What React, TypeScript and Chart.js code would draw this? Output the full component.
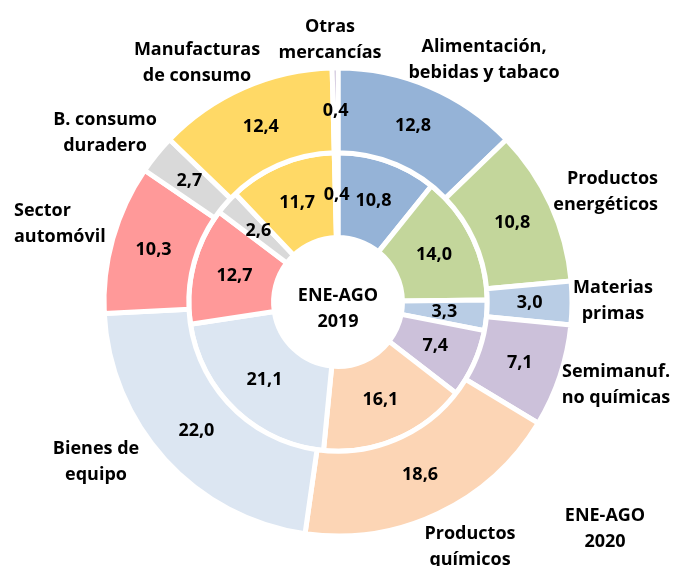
import React, { useEffect, useRef } from "react";
import { Chart, registerables } from "chart.js";

Chart.register(...registerables);

const categories: string[][] = [
  ["Alimentación,", "bebidas y tabaco"],
  ["Productos", "energéticos"],
  ["Materias", "primas"],
  ["Semimanuf.", "no químicas"],
  ["Productos", "químicos"],
  ["Bienes de", "equipo"],
  ["Sector", "automóvil"],
  ["B. consumo", "duradero"],
  ["Manufacturas", "de consumo"],
  ["Otras", "mercancías"],
];

const values2020 = [12.8, 10.8, 3.0, 7.1, 18.6, 22.0, 10.3, 2.7, 12.4, 0.4];
const values2019 = [10.8, 14.0, 3.3, 7.4, 16.1, 21.1, 12.7, 2.6, 11.7, 0.4];

const seriesTitles: string[][] = [
  ["ENE-AGO", "2020"],
  ["ENE-AGO", "2019"],
];

const colors = [
  "#95B3D7",
  "#C3D69B",
  "#B9CDE5",
  "#CCC1DA",
  "#FCD5B5",
  "#DCE6F2",
  "#FF9999",
  "#D9D9D9",
  "#FFD966",
  "#B3A2C7",
];

// label layout: offset from chart centre (px) and alignment
const labelLayout: { dx: number; dy: number; align: CanvasTextAlign }[] = [
  { dx: 146, dy: -242, align: "center" },
  { dx: 320, dy: -110, align: "right" },
  { dx: 275, dy: -1, align: "center" },
  { dx: 278, dy: 83, align: "center" },
  { dx: 132, dy: 245, align: "center" },
  { dx: -242, dy: 160, align: "center" },
  { dx: -324, dy: -78, align: "left" },
  { dx: -233, dy: -169, align: "center" },
  { dx: -141, dy: -239, align: "center" },
  { dx: -8, dy: -262, align: "center" },
];
const titleLayout = [
  { dx: 267, dy: 227 },
  { dx: 0, dy: 7 },
];

const FONT = "bold 18px 'Open Sans', Lato, sans-serif";
const LINE = 26;

const fmt = (v: number) => v.toFixed(1).replace(".", ",");

const labelsPlugin = {
  id: "ringLabels",
  afterDraw(chart: any) {
    const ctx = chart.ctx as CanvasRenderingContext2D;
    ctx.save();
    ctx.font = FONT;
    ctx.fillStyle = "#000";
    ctx.textBaseline = "middle";
    let cx = 0;
    let cy = 0;
    chart.data.datasets.forEach((ds: any, di: number) => {
      const meta = chart.getDatasetMeta(di);
      meta.data.forEach((arc: any, i: number) => {
        const p = arc.tooltipPosition();
        cx = arc.x;
        cy = arc.y;
        ctx.textAlign = "center";
        ctx.fillText(fmt(ds.data[i]), p.x, p.y);
      });
    });
    const drawBlock = (lines: string[], x: number, y: number, align: CanvasTextAlign) => {
      ctx.textAlign = align;
      const top = y - ((lines.length - 1) * LINE) / 2;
      lines.forEach((l, k) => ctx.fillText(l, x, top + k * LINE));
    };
    categories.forEach((lines, i) => {
      const L = labelLayout[i];
      drawBlock(lines, cx + L.dx, cy + L.dy, L.align);
    });
    seriesTitles.forEach((lines, i) => {
      const L = titleLayout[i];
      drawBlock(lines, cx + L.dx, cy + L.dy, "center");
    });
    ctx.restore();
  },
};

export default function App() {
  const ref = useRef<HTMLCanvasElement>(null);
  useEffect(() => {
    if (!ref.current) return;
    const chart = new Chart(ref.current, {
      type: "doughnut",
      data: {
        labels: categories.map((c) => c.join(" ")),
        datasets: [
          {
            label: seriesTitles[0].join(" "),
            data: values2020,
            backgroundColor: colors,
            borderColor: "#FFFFFF",
            borderWidth: 5,
          },
          {
            label: seriesTitles[1].join(" "),
            data: values2019,
            backgroundColor: colors,
            borderColor: "#FFFFFF",
            borderWidth: 5,
          },
        ],
      },
      options: {
        animation: false,
        responsive: true,
        maintainAspectRatio: false,
        events: [],
        radius: 234,
        cutout: 72,
        layout: { padding: { left: 3, right: 0, top: 38, bottom: 0 } },
        plugins: {
          legend: { display: false },
          tooltip: { enabled: false },
        },
      } as any,
      plugins: [labelsPlugin],
    });
    return () => chart.destroy();
  }, []);
  return (
    <div style={{ position: "fixed", left: 0, top: 0, width: 673, height: 566, background: "#fff" }}>
      <canvas ref={ref} />
    </div>
  );
}
